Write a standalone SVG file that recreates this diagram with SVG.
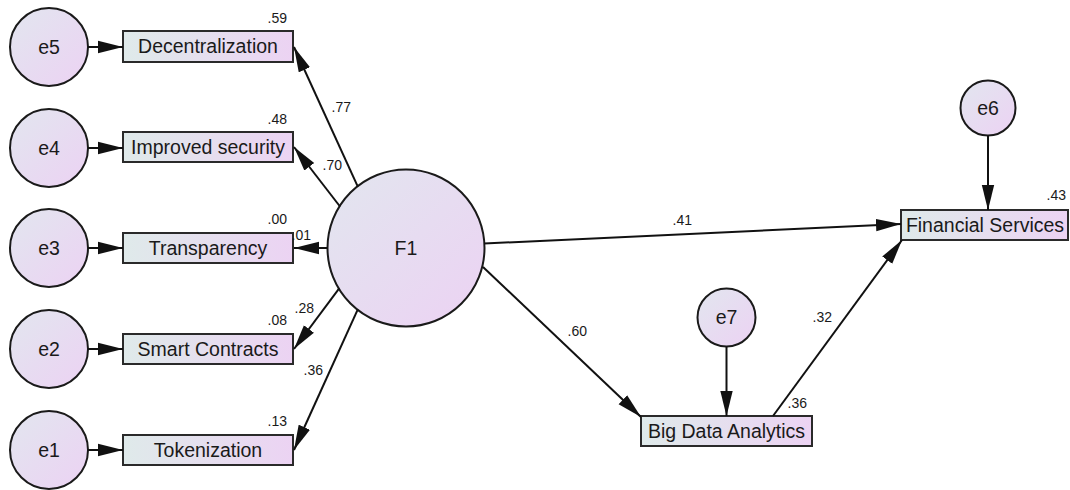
<svg xmlns="http://www.w3.org/2000/svg" width="1070" height="490" viewBox="0 0 1070 490">
<defs>
<linearGradient id="gc" x1="0" y1="0" x2="1" y2="1">
<stop offset="0" stop-color="#e2e6ef"/>
<stop offset="1" stop-color="#ecd2f3"/>
</linearGradient>
<linearGradient id="gb" x1="0" y1="0" x2="1" y2="0">
<stop offset="0" stop-color="#dfeaea"/>
<stop offset="1" stop-color="#ecd3f3"/>
</linearGradient>
<marker id="ah" markerUnits="userSpaceOnUse" markerWidth="25" markerHeight="14" refX="25" refY="7" orient="auto" viewBox="0 0 25 14">
<path d="M0,0.8 L25,7 L0,13.2 Z" fill="#111"/>
</marker>
<style>
.c{fill:url(#gc);stroke:#1a1a1a;stroke-width:2}
.b{fill:url(#gb);stroke:#2a2a2a;stroke-width:2}
.t{font-family:"Liberation Sans",Arial,sans-serif;font-size:19.5px;fill:#1a1a1a;text-anchor:middle}
.n{font-family:"Liberation Sans",Arial,sans-serif;font-size:14px;fill:#1a1a1a;text-anchor:end}
.l{fill:none;stroke:#111;stroke-width:2;marker-end:url(#ah)}
</style>
</defs>
<rect width="1070" height="490" fill="#ffffff"/>

<g id="e5"><circle class="c" cx="49" cy="47" r="39"/><text class="t" x="49" y="53.5">e5</text></g>
<g id="e4"><circle class="c" cx="49" cy="148" r="39"/><text class="t" x="49" y="154.5">e4</text></g>
<g id="e3"><circle class="c" cx="49" cy="248" r="39"/><text class="t" x="49" y="254.5">e3</text></g>
<g id="e2"><circle class="c" cx="49" cy="349" r="39"/><text class="t" x="49" y="355.5">e2</text></g>
<g id="e1"><circle class="c" cx="49" cy="450" r="39"/><text class="t" x="49" y="456.5">e1</text></g>

<g id="decentralization"><rect class="b" x="123" y="31" width="170" height="31"/><text class="t" x="208" y="53">Decentralization</text></g>
<g id="improved-security"><rect class="b" x="123" y="132" width="170" height="30"/><text class="t" x="208" y="153.5">Improved security</text></g>
<g id="transparency"><rect class="b" x="123" y="233" width="170" height="30"/><text class="t" x="208" y="254.5">Transparency</text></g>
<g id="smart-contracts"><rect class="b" x="123" y="334" width="170" height="30"/><text class="t" x="208" y="355.5">Smart Contracts</text></g>
<g id="tokenization"><rect class="b" x="123" y="435" width="170" height="30"/><text class="t" x="208" y="456.5">Tokenization</text></g>

<g id="F1"><circle class="c" cx="406" cy="248" r="78.5"/><text class="t" x="406" y="255">F1</text></g>

<g id="e6"><circle class="c" cx="988" cy="108" r="27.5"/><text class="t" x="988" y="114.5">e6</text></g>
<g id="e7"><circle class="c" cx="726.5" cy="317.5" r="29"/><text class="t" x="726.5" y="324">e7</text></g>

<g id="financial-services"><rect class="b" x="901" y="210" width="167" height="30"/><text class="t" x="985" y="231.5">Financial Services</text></g>
<g id="big-data-analytics"><rect class="b" x="641" y="416" width="171" height="30"/><text class="t" x="726.5" y="437.5">Big Data Analytics</text></g>

<g id="connectors">
<line class="l" x1="88" y1="47" x2="123" y2="47"/>
<line class="l" x1="88" y1="148" x2="123" y2="148"/>
<line class="l" x1="88" y1="248" x2="123" y2="248"/>
<line class="l" x1="88" y1="349" x2="123" y2="349"/>
<line class="l" x1="88" y1="450" x2="123" y2="450"/>

<line class="l" x1="357.8" y1="186.7" x2="294" y2="47"/>
<line class="l" x1="340" y1="206.5" x2="294" y2="147"/>
<line class="l" x1="327.5" y1="248" x2="294" y2="248"/>
<line class="l" x1="339.2" y1="288.3" x2="294" y2="349"/>
<line class="l" x1="357.8" y1="309.3" x2="294" y2="450"/>

<line class="l" x1="484" y1="243.5" x2="901" y2="224"/>
<line class="l" x1="483" y1="267" x2="641" y2="417"/>
<line class="l" x1="773" y1="416" x2="902" y2="240"/>
<line class="l" x1="726.5" y1="346.5" x2="726.5" y2="416"/>
<line class="l" x1="988" y1="135.5" x2="988" y2="210"/>
</g>

<g id="labels">
<text class="n" x="287" y="23">.59</text>
<text class="n" x="351" y="112">.77</text>
<text class="n" x="287" y="124">.48</text>
<text class="n" x="342" y="170">.70</text>
<text class="n" x="287" y="224">.00</text>
<text class="n" x="311" y="240">.01</text>
<text class="n" x="314" y="313">.28</text>
<text class="n" x="287" y="325">.08</text>
<text class="n" x="323" y="375">.36</text>
<text class="n" x="287" y="426">.13</text>
<text class="n" x="692" y="225">.41</text>
<text class="n" x="587" y="336">.60</text>
<text class="n" x="832" y="322">.32</text>
<text class="n" x="807" y="408">.36</text>
<text class="n" x="1066" y="200">.43</text>
</g>
</svg>
